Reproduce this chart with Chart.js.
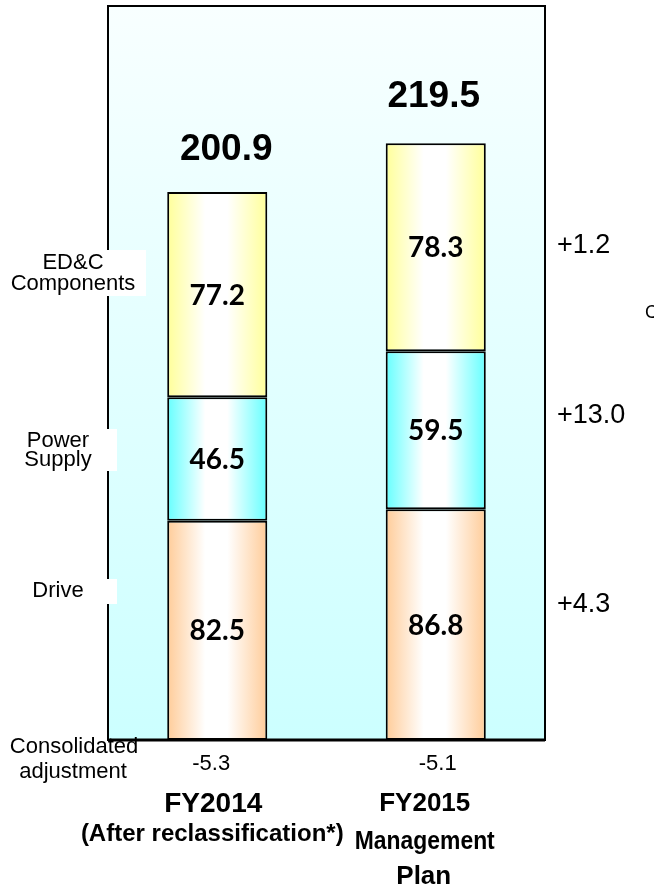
<!DOCTYPE html>
<html>
<head>
<meta charset="utf-8">
<script src="https://cdn.jsdelivr.net/npm/chart.js@4/dist/chart.umd.min.js"></script>
<style>
  html, body { margin: 0; padding: 0; background: #fff; }
  canvas { display: block; }
</style>
</head>
<body>
<canvas id="salesChart" width="654" height="888"></canvas>
<script>
// Net sales by segment (billion yen)
const categories = ['FY2014', 'FY2015'];
const drive = [82.5, 86.8];
const powerSupply = [46.5, 59.5];
const edcComponents = [77.2, 78.3];
const adjustment = [-5.3, -5.1];
const changes = ['+1.2', '+13.0', '+4.3']; // ED&C, Power Supply, Drive
const yMax = 276.2;

const ARIAL = '"Liberation Sans", Arial, sans-serif';
const BAR_PCT = 0.458;

// horizontal colour -> white -> colour fill for each bar
function barFill(color) {
  return (c) => {
    const x = c.chart.scales.x;
    if (!x || c.dataIndex === undefined || !c.chart.chartArea) return color;
    const cx = x.getPixelForValue(c.dataIndex);
    const half = x.width / categories.length * BAR_PCT / 2;
    const g = c.chart.ctx.createLinearGradient(cx - half, 0, cx + half, 0);
    g.addColorStop(0, color);
    g.addColorStop(0.38, '#ffffff');
    g.addColorStop(0.6, '#ffffff');
    g.addColorStop(1, color);
    return g;
  };
}

const frame = {
  id: 'frame',
  beforeDatasetsDraw(chart) {
    const { ctx, chartArea: a } = chart;
    const g = ctx.createLinearGradient(0, a.top, 0, a.bottom);
    g.addColorStop(0, '#f8ffff');
    g.addColorStop(1, '#ccffff');
    ctx.save();
    ctx.fillStyle = g;
    ctx.fillRect(a.left, a.top, a.right - a.left, a.bottom - a.top);
    ctx.strokeStyle = '#000';
    ctx.lineWidth = 2;
    ctx.strokeRect(a.left, a.top, a.right - a.left, a.bottom - a.top);
    ctx.restore();
  },
  afterDatasetsDraw(chart) {
    const { ctx, chartArea: a } = chart;
    ctx.save();
    ctx.strokeStyle = '#000';
    ctx.lineWidth = 3;
    ctx.beginPath();
    ctx.moveTo(a.left, a.bottom);
    ctx.lineTo(a.right, a.bottom);
    ctx.stroke();
    ctx.restore();
  }
};

const labels = {
  id: 'labels',
  afterDraw(chart) {
    const { ctx } = chart;
    const xs = chart.scales.x;
    ctx.save();
    ctx.fillStyle = '#000';
    ctx.textAlign = 'center';
    ctx.textBaseline = 'middle';

    // values inside segments
    ctx.font = 'bold 28px Lato, "Noto Sans", sans-serif';
    chart.data.datasets.forEach((ds, di) => {
      chart.getDatasetMeta(di).data.forEach((bar, i) => {
        ctx.fillText(ds.data[i].toFixed(1), bar.x, (bar.y + bar.base) / 2 + 1);
      });
    });

    // totals above bars (segment sum + consolidated adjustment)
    ctx.font = 'bold 37px ' + ARIAL;
    const topMeta = chart.getDatasetMeta(chart.data.datasets.length - 1);
    const totalDx = [9, -2], totalDy = [-42, -46];
    categories.forEach((c, i) => {
      const total = drive[i] + powerSupply[i] + edcComponents[i] + adjustment[i];
      ctx.fillText(total.toFixed(1), topMeta.data[i].x + totalDx[i], topMeta.data[i].y + totalDy[i]);
    });

    // change column on the right
    ctx.textAlign = 'left';
    ctx.font = '27px ' + ARIAL;
    const changeY = [246, 416, 605];
    changes.forEach((t, k) => ctx.fillText(t, 557, changeY[k]));
    ctx.font = '18px ' + ARIAL;
    ctx.fillText('C', 645, 313);

    // segment names on the left with white backing
    ctx.fillStyle = '#fff';
    ctx.fillRect(0, 250, 146, 46);
    ctx.fillRect(0, 429, 117, 42);
    ctx.fillRect(0, 579, 117, 25);
    ctx.fillStyle = '#000';
    ctx.textAlign = 'center';
    ctx.font = '22px ' + ARIAL;
    ctx.fillText('ED&C', 73, 263);
    ctx.fillText('Components', 73, 284);
    ctx.fillText('Power', 58, 441);
    ctx.fillText('Supply', 58, 460);
    ctx.fillText('Drive', 58, 591);
    ctx.fillText('Consolidated', 74, 747);
    ctx.fillText('adjustment', 73, 772);

    // adjustments and category labels below
    ctx.font = '22px ' + ARIAL;
    ctx.fillText(adjustment[0].toFixed(1), xs.getPixelForValue(0) - 6, 764);
    ctx.fillText(adjustment[1].toFixed(1), xs.getPixelForValue(1) + 2, 764);
    ctx.font = 'bold 28px ' + ARIAL;
    ctx.fillText(categories[0], xs.getPixelForValue(0) - 4, 804);
    ctx.font = 'bold 24px ' + ARIAL;
    ctx.fillText('(After reclassification*)', xs.getPixelForValue(0) - 5, 834);
    ctx.font = 'bold 26px ' + ARIAL;
    ctx.fillText(categories[1], xs.getPixelForValue(1) - 11, 804);
    ctx.fillText('Management', xs.getPixelForValue(1) - 11, 842, 140);
    ctx.fillText('Plan', xs.getPixelForValue(1) - 12, 877);
    ctx.restore();
  }
};

new Chart(document.getElementById('salesChart'), {
  type: 'bar',
  data: {
    labels: categories,
    datasets: [
      { label: 'Drive', data: drive, backgroundColor: barFill('#ffcc99') },
      { label: 'Power Supply', data: powerSupply, backgroundColor: barFill('#66ffff') },
      { label: 'ED&C Components', data: edcComponents, backgroundColor: barFill('#ffff99') }
    ]
  },
  options: {
    responsive: false,
    animation: false,
    layout: { padding: { left: 108, right: 109, top: 6, bottom: 148 } },
    plugins: { legend: { display: false }, tooltip: { enabled: false } },
    datasets: {
      bar: {
        barPercentage: 1,
        categoryPercentage: BAR_PCT,
        borderColor: '#000',
        borderWidth: 2,
        borderSkipped: false
      }
    },
    scales: {
      x: { display: false, stacked: true, offset: true },
      y: { display: false, stacked: true, min: 0, max: yMax }
    }
  },
  plugins: [frame, labels]
});
</script>
</body>
</html>
